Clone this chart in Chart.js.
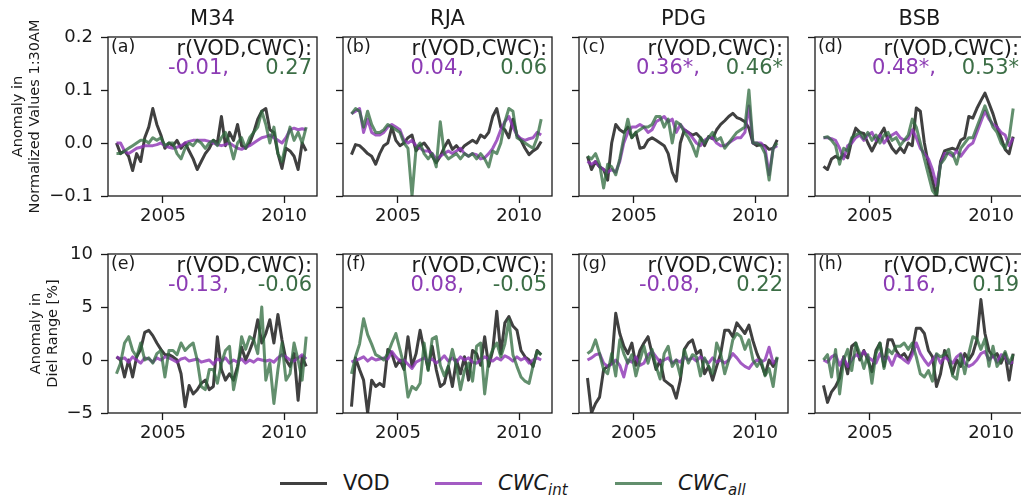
<!DOCTYPE html>
<html>
<head>
<meta charset="utf-8">
<script src="https://cdn.jsdelivr.net/npm/chart.js@4.4.0/dist/chart.umd.min.js"></script>
<style>
  html, body { margin: 0; padding: 0; background: #fff; }
  #fig { position: relative; width: 1021px; height: 501px; overflow: hidden; background: #fff; }
  #fig canvas { position: absolute; }
  #legend { position: absolute; left: 0; top: 471px; width: 1021px; height: 26px;
            font-family: 'DejaVu Sans', sans-serif; font-size: 21px; color: #1a1a1a; }
  #legend .key { position: absolute; top: 11px; width: 47px; height: 3px; }
  #legend .lab { position: absolute; top: 0; line-height: 24px; white-space: nowrap; }
  #legend sub { font-size: 15px; vertical-align: -5px; line-height: 0; }
</style>
</head>
<body>
<div id="fig"><div id="legend"></div></div>
<script>
// sites and per-panel annotations
const sites = ['M34', 'RJA', 'PDG', 'BSB'];
const panelTags = [['(a)', '(b)', '(c)', '(d)'], ['(e)', '(f)', '(g)', '(h)']];
const rIntNorm = ['-0.01', '0.04', '0.36*', '0.48*'];
const rAllNorm = ['0.27', '0.06', '0.46*', '0.53*'];
const rIntDiel = ['-0.13', '0.08', '-0.08', '0.16'];
const rAllDiel = ['-0.06', '-0.05', '0.22', '0.19'];

const xTicks = [2005, 2010];
const xRange = [2002.73, 2011.36];
const yTicksNorm = [-0.1, 0.0, 0.1, 0.2];
const yTicksDiel = [-5, 0, 5, 10];

// anomalies sampled every two months, first sample Feb 2003
const firstSample = 2003.08;
const sampleStep = 1 / 6;

// anomaly in normalized 1:30AM values, one row per site
const vodNorm = [
  [0.0, -0.02, -0.015, -0.025, -0.052, -0.02, -0.035, 0.01, 0.03, 0.065, 0.035, 0.015,
   -0.01, 0.0, -0.005, 0.005, -0.01, 0.0, -0.015, -0.03, -0.05, -0.035, -0.02, -0.01,
   0.005, 0.0, 0.05, -0.005, 0.02, 0.005, 0.035, -0.005, -0.01, 0.0, 0.02, 0.045,
   0.06, 0.065, 0.025, 0.02, -0.02, -0.048, -0.01, -0.015, -0.025, -0.05, 0.0, -0.015],
  [-0.022, -0.003, -0.005, -0.012, -0.02, -0.025, -0.04, -0.02, -0.005, 0.0, 0.03, 0.005,
   -0.005, 0.0, 0.01, 0.015, -0.015, -0.005, 0.0, -0.01, -0.025, -0.037, -0.025, -0.008,
   0.005, -0.012, -0.005, -0.015, -0.005, 0.0, 0.005, 0.0, 0.015, 0.01, 0.02, 0.05,
   0.065, 0.03, 0.025, 0.01, 0.045, 0.015, 0.005, -0.01, -0.022, -0.015, -0.01, 0.003],
  [-0.025, -0.05, -0.035, -0.045, -0.05, -0.07, 0.0, 0.035, 0.025, 0.02, 0.03, 0.01,
   0.02, -0.01, -0.008, 0.005, 0.01, 0.005, 0.0, -0.005, -0.02, -0.055, -0.072, 0.0,
   0.025, 0.02, 0.015, 0.018, 0.01, -0.005, 0.012, 0.008, 0.025, 0.035, 0.042, 0.05,
   0.056, 0.048, 0.045, 0.04, 0.028, 0.0, -0.005, -0.003, -0.005, -0.012, -0.01, 0.006],
  [-0.044, -0.05, -0.03, -0.025, -0.03, -0.022, -0.028, 0.005, 0.028, 0.02, 0.018, 0.0,
   -0.015, 0.0, 0.015, 0.028, 0.005, -0.01, -0.019, -0.009, -0.018, 0.0, -0.005, 0.066,
   0.06, 0.0, -0.04, -0.07, -0.1, -0.035, -0.015, -0.012, -0.01, -0.013, 0.005, 0.01,
   0.05, 0.047, 0.065, 0.08, 0.094, 0.075, 0.055, 0.03, 0.01, -0.012, -0.02, 0.012]
];
const cwcIntNorm = [
  [0.0, 0.0, -0.015, -0.02, -0.015, -0.01, -0.008, -0.005, -0.005, -0.005, -0.003, 0.0,
   -0.005, -0.008, -0.01, -0.008, -0.005, 0.0, 0.003, 0.005, 0.005, 0.005, 0.005, 0.003,
   0.0, -0.003, -0.005, -0.003, 0.0, -0.005, -0.01, -0.012, -0.008, -0.005, 0.0, 0.005,
   0.01, 0.012, 0.015, 0.01, 0.005, 0.0, 0.01, 0.025, 0.028, 0.025, 0.027, 0.025],
  [0.055, 0.06, 0.065, 0.02, 0.045, 0.02, 0.015, 0.015, 0.02, 0.03, 0.035, 0.03,
   0.025, 0.005, 0.0, 0.005, -0.005, -0.01, -0.015, -0.015, -0.02, -0.03, -0.025, -0.02,
   -0.015, -0.02, -0.015, -0.01, -0.02, -0.025, -0.02, -0.022, -0.03, -0.028, -0.02, -0.01,
   0.005, 0.025, 0.04, 0.05, 0.03, 0.015, 0.008, 0.005, 0.008, 0.01, 0.02, 0.015],
  [-0.035, -0.04, -0.035, -0.045, -0.05, -0.055, -0.05, -0.055, -0.035, 0.0, 0.02, 0.03,
   0.03, 0.035, 0.03, 0.02, 0.025, 0.04, 0.045, 0.05, 0.04, 0.045, 0.02, 0.035,
   0.025, 0.02, 0.01, 0.0, -0.005, 0.005, 0.01, 0.01, 0.0, -0.005, -0.005, 0.0,
   0.005, 0.01, 0.01, 0.02, 0.07, 0.0, 0.0, 0.0, -0.01, -0.06, -0.01, -0.005],
  [0.01, 0.01, 0.008, 0.005, -0.01, -0.03, -0.005, 0.0, 0.01, 0.015, 0.005, 0.015,
   0.02, 0.005, 0.015, 0.0, 0.01, 0.015, 0.02, 0.01, 0.005, 0.008, 0.025, 0.01,
   -0.01, -0.02, -0.03, -0.05, -0.08, -0.04, -0.02, -0.02, -0.025, -0.015, -0.025, -0.015,
   -0.005, 0.0, 0.02, 0.04, 0.06, 0.045, 0.035, 0.03, 0.02, 0.015, -0.005, 0.01]
];
const cwcAllNorm = [
  [-0.02, -0.02, -0.015, -0.01, -0.005, 0.0, 0.005, 0.005, 0.0, 0.01, 0.005, 0.01,
   -0.005, 0.0, 0.0, -0.02, -0.03, -0.01, 0.0, -0.005, 0.005, 0.0, -0.01, 0.0,
   0.005, -0.005, 0.01, 0.02, 0.0, -0.03, 0.0, 0.01, -0.01, 0.01, 0.02, 0.03,
   0.06, 0.035, 0.0, 0.03, -0.02, -0.035, 0.0, 0.03, 0.005, 0.02, 0.0, 0.03],
  [0.055, 0.065, 0.06, 0.03, 0.06, 0.035, 0.02, 0.02, 0.025, 0.035, 0.03, 0.025,
   0.02, 0.0, -0.01, -0.1, -0.01, 0.0, -0.02, -0.03, -0.02, -0.045, 0.04, -0.02,
   -0.03, -0.025, -0.02, -0.03, -0.02, -0.025, -0.02, -0.03, -0.02, -0.03, -0.045, -0.015,
   -0.02, 0.0, 0.04, 0.065, 0.06, 0.01, 0.005, 0.0, -0.005, -0.01, 0.01, 0.045],
  [-0.025, -0.03, -0.02, -0.04, -0.085, -0.04, -0.045, -0.06, -0.03, 0.01, 0.045, 0.01,
   0.02, 0.025, 0.03, 0.03, 0.035, 0.05, 0.05, 0.03, 0.045, 0.0, 0.04, 0.035,
   0.02, 0.01, -0.005, -0.025, 0.01, 0.0, 0.01, 0.02, 0.005, 0.01, -0.01, 0.0,
   0.01, 0.02, 0.025, 0.03, 0.1, 0.0, 0.0, -0.005, -0.02, -0.07, -0.01, 0.0],
  [0.01, 0.012, 0.005, -0.005, -0.04, -0.01, -0.015, 0.01, 0.015, 0.02, 0.008, 0.02,
   0.005, 0.015, 0.0, 0.015, 0.02, 0.005, 0.01, -0.005, 0.005, 0.015, 0.045, 0.03,
   0.0, -0.03, -0.06, -0.09, -0.1, -0.04, -0.03, -0.015, -0.02, -0.04, -0.01, 0.0,
   0.01, 0.01, 0.03, 0.05, 0.07, 0.05, 0.03, 0.02, 0.0, -0.01, 0.01, 0.065]
];

// anomaly in diel range [%], one row per site
const vodDiel = [
  [0.3, 0.0, -1.6, 0.0, -1.6, 0.3, 1.0, 2.6, 2.8, 2.3, 1.6, 1.0,
   0.5, 0.5, 0.3, 0.0, -1.3, -4.4, -2.4, -3.2, -2.8, -2.2, -1.9, -2.8,
   -2.5, 2.2, -0.9, -1.9, -1.3, -1.9, -0.6, 1.2, 0.0, 0.9, 1.9, 3.8,
   1.6, 2.5, 3.8, 1.6, 4.3, 1.9, 0.0, -0.6, 0.6, -3.8, 0.3, -0.6],
  [-4.4, 0.2, -0.9, -1.9, -5.0, -1.9, -2.5, -2.2, -2.5, 1.0, 0.6, -0.6,
   0.0, -0.9, 2.2, -0.6, 0.6, 2.8, 0.9, -0.9, 1.3, -0.9, -2.5, -2.2,
   -0.6, -2.5, 0.0, -1.3, 0.3, -1.9, 0.9, 0.6, -0.5, 2.2, -0.6, 0.9,
   4.6, 0.6, 3.5, 4.1, 3.2, 2.8, 0.9, 0.3, 0.0, -0.6, 0.9, 0.5],
  [-1.7, -5.0, -4.1, -3.5, -0.9, -0.6, -0.3, 4.4, 2.5, 1.3, 0.6, 1.6,
   -0.5, 0.9, 1.6, 2.2, 0.6, -0.9, 0.0, -1.9, -2.2, -2.5, -3.6, -1.9,
   1.0, 1.6, 1.9, 0.6, 0.9, -1.3, -0.6, -1.9, -0.6, 0.6, 2.8, 2.8,
   2.2, 3.5, 3.0, 2.5, 3.3, 1.8, 0.6, -0.3, -1.4, 0.0, -0.6, 0.2],
  [-2.4, -4.0, -3.0, -2.5, -1.7, 0.3, -1.3, 1.3, 1.6, 0.0, 0.9, 0.0,
   -1.1, 0.9, 1.6, -0.6, 1.9, 1.9, 0.9, 0.3, 0.6, 0.0, 0.9, 3.0,
   3.0, 2.5, 0.9, 0.3, -2.5, -1.3, 0.9, 0.0, -1.3, 0.0, -0.6, 0.6,
   0.0, 0.6, 1.9, 5.7, 2.5, 0.9, 0.3, 0.6, -0.3, 0.6, -1.9, 0.6]
];
const cwcIntDiel = [
  [0.3, 0.1, 0.2, -0.2, 0.3, 0.0, -0.3, 0.2, 0.1, -0.2, 0.2, 0.0,
   0.3, 0.2, 0.0, -0.2, 0.1, 0.2, -0.1, 0.0, 0.1, -0.2, -0.1, 0.0,
   -0.4, 0.1, -0.1, 0.2, -0.3, 0.0, -0.2, 0.1, -0.3, 0.0, -0.2, 0.1,
   0.0, -0.1, 0.0, -0.2, 0.2, 0.5, 0.3, 0.0, -0.1, 0.2, 0.5, 0.1],
  [-0.2, 0.0, 0.1, 0.3, -0.1, 0.2, 0.0, 0.1, 0.2, 0.1, 0.8, 0.3,
   -0.1, 0.0, -0.4, -0.8, -0.2, 0.0, 0.2, -0.1, 0.1, -0.3, 0.0, 0.4,
   -0.1, 0.2, -0.2, 0.3, 0.0, 0.2, -0.2, -0.3, 0.0, 0.3, 0.1, -0.1,
   0.2, 0.0, 0.4, 0.2, -0.1, 0.3, 0.0, 0.2, -0.3, 0.0, 0.2, 0.0],
  [0.0, 0.2, 0.5, 0.6, -0.3, -0.6, -0.4, 0.0, -0.5, -1.6, 0.0, -0.2,
   0.3, -0.5, -0.3, 0.5, 0.8, 0.3, -0.2, 0.0, 0.2, -0.3, 0.0, -0.2,
   0.3, 0.0, 0.2, -0.1, 0.3, 0.0, -0.3, 0.2, -0.2, 0.0, -0.3, 0.0,
   0.6, 0.2, -0.3, -0.6, -0.8, -0.3, 0.0, -0.2, 0.0, 1.2, -0.3, 0.0],
  [0.0, -0.2, 0.3, 0.5, -0.5, 0.2, -0.6, 0.0, 0.5, 0.3, 0.8, 0.3,
   0.0, -0.3, 0.6, 0.0, 0.3, -0.5, 0.5, 0.3, 0.0, -0.3, 0.5, 1.6,
   0.6, 0.0, -0.5, 0.0, 0.5, -0.3, 0.3, 0.0, -0.3, 0.3, 0.6, -0.3,
   -0.6, -0.4, 0.0, 0.6, 0.8, 0.0, 0.4, -0.2, 0.5, 0.3, -0.3, -0.2]
];
const cwcAllDiel = [
  [-1.3, -0.3, 1.6, 2.2, 0.9, 0.3, 1.6, 0.0, 0.2, -0.3, 0.6, 0.9,
   -1.6, 0.9, 0.9, 0.5, 1.6, 0.9, 1.3, 1.6, 0.0, -2.5, -2.8, -0.9,
   -0.9, -2.2, -0.3, 0.9, 1.3, -2.8, -0.9, 2.2, 1.0, 2.2, 1.9, 0.6,
   5.0, -1.9, -0.3, -4.1, -0.9, 1.6, -1.9, -1.3, 1.6, 0.0, -1.9, 2.2],
  [-1.3, 0.3, 1.5, 3.9, 2.4, 1.5, 0.5, 0.3, 0.0, 0.6, 1.6, 2.5,
   1.0, -0.5, -3.5, -2.5, -2.8, -2.2, 1.6, -1.0, 2.0, 2.2, -0.5, -1.5,
   -0.6, 1.0, -0.6, -2.8, -1.0, -0.3, -2.0, 1.3, 1.6, -3.2, 0.0, 1.0,
   1.6, 0.3, 1.5, 3.8, 0.5, -0.6, -1.6, -2.0, -2.2, -0.5, 0.8, 0.5],
  [0.6, 0.9, 1.9, 0.6, -0.9, -1.3, 0.6, -1.5, 1.9, 0.6, -0.3, 0.5,
   -1.5, 0.0, 1.3, -0.3, 1.0, -0.6, -1.8, 0.6, 1.3, -0.6, 0.0, -1.5,
   1.0, -0.3, 0.5, 0.3, -1.5, 0.2, -0.6, -1.3, 1.6, 0.6, -1.3, 0.0,
   1.9, 2.5, 2.2, 1.0, 1.9, 0.0, -0.6, 0.0, -1.5, -0.8, -2.5, 0.3],
  [0.0, 0.5, -1.6, 1.0, -3.2, 0.0, 1.0, -1.0, 1.6, 0.6, -0.8, 0.5,
   -2.2, 0.6, 1.6, -0.8, 1.0, 0.6, 1.3, 1.3, 1.6, 1.0, 1.6, 0.3,
   -1.3, -1.6, -1.0, -2.0, 0.6, 0.3, 0.5, 1.0, -1.5, -1.8, 0.5, -1.3,
   0.6, 2.2, 2.0, 1.0, 2.0, -0.6, 1.3, -0.6, 0.0, 0.8, -0.3, 0.5]
];

// colours
const C_VOD = 'rgba(30, 30, 30, 0.85)';
const C_INT = 'rgba(140, 50, 180, 0.8)';
const C_ALL = 'rgba(45, 105, 60, 0.75)';
const TXT_INT = '#8c3cb4';
const TXT_ALL = '#3c6e46';
const INK = '#1a1a1a';

// layout of the 2x4 grid (plot area corners in page pixels)
const plotLefts = [108, 343, 579, 815];
const plotTops = [37, 254];
const PLOT_W = 209, PLOT_H = 159;
const TOP_PAD = 37, BOTTOM_H = 35, RIGHT_PAD = 12;

Chart.defaults.font.family = "'DejaVu Sans', sans-serif";
Chart.defaults.color = INK;

const minus = s => s.replace('-', '\u2212');
const rowsCfg = [
  {
    vod: vodNorm, int: cwcIntNorm, all: cwcAllNorm, rInt: rIntNorm, rAll: rAllNorm,
    yTicks: yTicksNorm, fmt: v => minus(v.toFixed(1)),
    yTitle: ['Anomaly in', 'Normalized Values 1:30AM'], yTitlePad: 9.5
  },
  {
    vod: vodDiel, int: cwcIntDiel, all: cwcAllDiel, rInt: rIntDiel, rAll: rAllDiel,
    yTicks: yTicksDiel, fmt: v => minus(String(v)),
    yTitle: ['Anomaly in', 'Diel Range [%]'], yTitlePad: 27.5
  }
];

// frame, site name and correlation labels
const panelDecor = {
  id: 'panelDecor',
  afterDraw(chart, args, opts) {
    const { ctx, chartArea: a } = chart;
    ctx.save();
    ctx.strokeStyle = INK;
    ctx.lineWidth = 1.3;
    ctx.strokeRect(a.left, a.top, a.right - a.left, a.bottom - a.top);
    ctx.textBaseline = 'middle';
    ctx.fillStyle = INK;
    if (opts.site) {
      ctx.font = "21px 'DejaVu Sans'";
      ctx.textAlign = 'center';
      ctx.fillText(opts.site, (a.left + a.right) / 2, a.top - 17);
    }
    ctx.font = "17.5px 'DejaVu Sans'";
    ctx.textAlign = 'left';
    ctx.fillText(opts.tag, a.left + 3, a.top + 10);
    ctx.font = "21px 'DejaVu Sans'";
    ctx.textAlign = 'right';
    ctx.fillText('r(VOD,CWC):', a.right - 5, a.top + 13);
    ctx.fillStyle = TXT_INT;
    ctx.fillText(opts.rInt + ',', a.right - 88, a.top + 32);
    ctx.fillStyle = TXT_ALL;
    ctx.fillText(opts.rAll, a.right - 5, a.top + 32);
    ctx.restore();
  }
};

const fig = document.getElementById('fig');

function series(vals) {
  return vals.map((y, i) => ({ x: firstSample + i * sampleStep, y }));
}

function makePanel(row, col) {
  const cfg = rowsCfg[row];
  const padL = col === 0 ? plotLefts[0] : 22;
  const canvas = document.createElement('canvas');
  canvas.width = padL + PLOT_W + RIGHT_PAD;
  canvas.height = TOP_PAD + PLOT_H + BOTTOM_H;
  canvas.style.left = (plotLefts[col] - padL) + 'px';
  canvas.style.top = (plotTops[row] - TOP_PAD) + 'px';
  fig.appendChild(canvas);

  const tickGrid = {
    display: true, drawOnChartArea: false, drawTicks: true,
    tickLength: 7, tickColor: INK, tickWidth: 1.3
  };

  new Chart(canvas, {
    type: 'line',
    data: {
      datasets: [
        { label: 'VOD', data: series(cfg.vod[col]), borderColor: C_VOD, order: 3 },
        { label: 'CWC_int', data: series(cfg.int[col]), borderColor: C_INT, order: 2 },
        { label: 'CWC_all', data: series(cfg.all[col]), borderColor: C_ALL, order: 1 }
      ]
    },
    options: {
      responsive: false,
      animation: false,
      devicePixelRatio: 1,
      events: [],
      layout: { padding: { top: TOP_PAD, right: RIGHT_PAD, left: 0, bottom: 0 } },
      elements: {
        point: { radius: 0 },
        line: { tension: 0, borderWidth: 3, borderJoinStyle: 'round', fill: false }
      },
      plugins: {
        legend: { display: false },
        tooltip: { enabled: false },
        panelDecor: {
          site: row === 0 ? sites[col] : null,
          tag: panelTags[row][col],
          rInt: cfg.rInt[col],
          rAll: cfg.rAll[col]
        }
      },
      scales: {
        x: {
          type: 'linear',
          min: xRange[0], max: xRange[1],
          afterBuildTicks: s => { s.ticks = xTicks.map(v => ({ value: v })); },
          afterFit: s => { s.height = BOTTOM_H; },
          ticks: { font: { size: 18 }, padding: 3, maxRotation: 0, callback: v => String(v) },
          grid: tickGrid,
          border: { display: false }
        },
        y: {
          type: 'linear',
          min: cfg.yTicks[0], max: cfg.yTicks[cfg.yTicks.length - 1],
          afterBuildTicks: s => { s.ticks = cfg.yTicks.map(v => ({ value: v })); },
          afterFit: s => { s.width = padL; },
          ticks: { display: col === 0, font: { size: 18 }, padding: 8, callback: v => cfg.fmt(v) },
          grid: tickGrid,
          border: { display: false },
          title: {
            display: col === 0,
            text: cfg.yTitle,
            color: INK,
            font: { size: 14.5, lineHeight: '17px' },
            padding: { top: cfg.yTitlePad, bottom: 0 }
          }
        }
      }
    },
    plugins: [panelDecor]
  });
}

for (let row = 0; row < 2; row++) {
  for (let col = 0; col < 4; col++) makePanel(row, col);
}

// shared legend under the grid
const legendItems = [
  { html: 'VOD', color: C_VOD, keyLeft: 280, labLeft: 343 },
  { html: '<i>CWC<sub>int</sub></i>', color: C_INT, keyLeft: 435, labLeft: 498 },
  { html: '<i>CWC<sub>all</sub></i>', color: C_ALL, keyLeft: 615, labLeft: 678 }
];
const legend = document.getElementById('legend');
legendItems.forEach(item => {
  const key = document.createElement('span');
  key.className = 'key';
  key.style.left = item.keyLeft + 'px';
  key.style.background = item.color;
  legend.appendChild(key);
  const lab = document.createElement('span');
  lab.className = 'lab';
  lab.style.left = item.labLeft + 'px';
  lab.innerHTML = item.html;
  legend.appendChild(lab);
});
</script>
</body>
</html>
